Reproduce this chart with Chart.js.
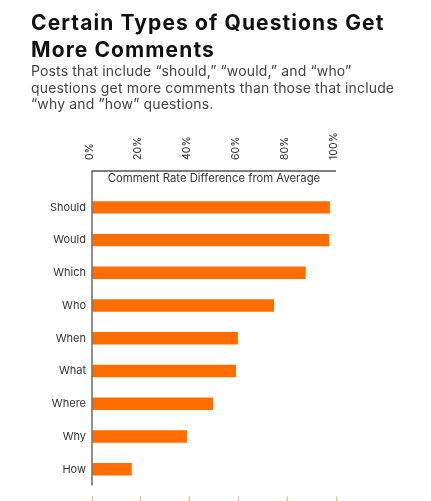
<!DOCTYPE html>
<html>
<head>
<meta charset="utf-8">
<script src="https://cdn.jsdelivr.net/npm/chart.js@4"></script>
<style>
  html, body { margin: 0; padding: 0; background: #fff; width: 431px; height: 501px; overflow: hidden; }
  #title { position: absolute; left: 31px; top: 9px; margin: 0; font-family: Inter, sans-serif; font-weight: 700; font-size: 21px; line-height: 27px; letter-spacing: 1.1px; color: #111; white-space: nowrap; }
  #sub { position: absolute; left: 31px; top: 63px; margin: 0; font-family: Inter, sans-serif; font-weight: 400; font-size: 14px; line-height: 16.5px; letter-spacing: 0.15px; color: #444; white-space: nowrap; }
  #wrap { position: absolute; left: 0; top: 0; width: 431px; height: 501px; }
</style>
</head>
<body>
<div id="wrap"><canvas id="c"></canvas></div>
<h1 id="title">Certain Types of Questions Get<br>More Comments</h1>
<p id="sub">Posts that include “should,” “would,” and “who”<br>questions get more comments than those that include<br>“why and ”how” questions.</p>
<script>
const categories = ['Should', 'Would', 'Which', 'Who', 'When', 'What', 'Where', 'Why', 'How'];
const commentRateDiff = [97.5, 97.3, 87.6, 74.6, 59.8, 59.0, 49.7, 39.0, 16.3];
const tickValues = [0, 20, 40, 60, 80, 100];
const axisTitle = 'Comment Rate Difference from Average';

const axisFrame = {
  id: 'axisFrame',
  afterDraw(chart) {
    const {ctx, chartArea} = chart;
    const lineY = chartArea.top - 20;
    ctx.save();
    ctx.strokeStyle = '#555';
    ctx.lineWidth = 1.3;
    ctx.beginPath();
    ctx.moveTo(chartArea.right, lineY);
    ctx.lineTo(chartArea.left, lineY);
    ctx.lineTo(chartArea.left, chartArea.bottom);
    ctx.stroke();
    ctx.fillStyle = '#333';
    ctx.font = '11.3px Inter, sans-serif';
    ctx.textAlign = 'center';
    ctx.textBaseline = 'middle';
    ctx.fillText(axisTitle, (chartArea.left + chartArea.right) / 2, lineY + 8);
    ctx.restore();
  }
};

new Chart(document.getElementById('c'), {
  type: 'bar',
  data: {
    labels: categories,
    datasets: [{
      data: commentRateDiff,
      backgroundColor: '#ff6c00',
      borderWidth: 0,
      barPercentage: 0.38,
      categoryPercentage: 1,
      xAxisID: 'x'
    }]
  },
  options: {
    indexAxis: 'y',
    responsive: true,
    maintainAspectRatio: false,
    animation: false,
    layout: { padding: { top: 121, right: 95, bottom: 0, left: 0 } },
    plugins: { legend: { display: false }, tooltip: { enabled: false } },
    scales: {
      x: {
        position: 'top',
        min: 0, max: 100,
        afterBuildTicks: s => { s.ticks = tickValues.map(v => ({ value: v })); },
        afterFit: s => { s.height = 70; },
        border: { display: false },
        grid: { display: true, drawOnChartArea: false, drawTicks: true, tickLength: 29, tickColor: 'rgba(0,0,0,0)' },
        ticks: {
          padding: 2,
          labelOffset: 10,
          minRotation: 90, maxRotation: 90,
          color: '#333',
          font: { family: 'Inter, sans-serif', size: 10.5 },
          callback: v => v + '%'
        }
      },
      x2: {
        position: 'bottom',
        min: 0, max: 100,
        afterBuildTicks: s => { s.ticks = tickValues.map(v => ({ value: v })); },
        afterFit: s => { s.height = 15.4; },
        border: { display: false },
        grid: { display: true, drawOnChartArea: false, drawTicks: true, tickLength: 15.4, tickColor: '#ffb27a', tickWidth: 1.2, tickBorderDash: [0, 10.5, 10, 0] },
        ticks: { display: false }
      },
      y: {
        afterFit: s => { s.width = 92; },
        border: { display: false },
        grid: { display: false, drawTicks: false },
        ticks: {
          padding: 6,
          color: '#333',
          font: { family: 'Inter, sans-serif', size: 11 }
        }
      }
    }
  },
  plugins: [axisFrame]
});
</script>
</body>
</html>
